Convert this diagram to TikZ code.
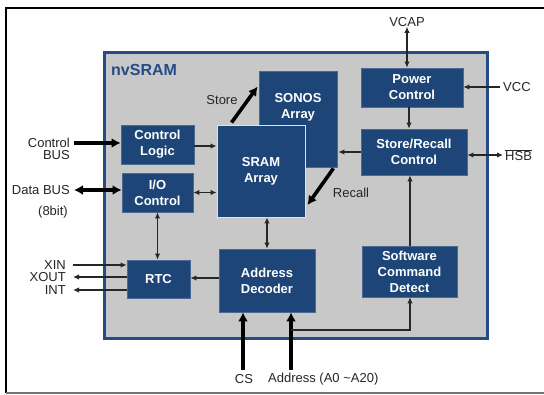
\documentclass[tikz,border=0pt]{standalone}
\usepackage{fontspec}
\setmainfont{Liberation Sans}
\usetikzlibrary{arrows.meta,positioning,calc}
\definecolor{blockblue}{RGB}{29,69,120}
\definecolor{panelgray}{RGB}{200,200,200}
\definecolor{panelblue}{RGB}{36,76,134}
\definecolor{labelgray}{RGB}{38,38,38}
\tikzset{
  panel/.style={draw=panelblue,fill=panelgray,line width=3pt,inner sep=0pt},
  blk/.style={fill=blockblue,draw=blockblue!80!white,line width=0.8pt,inner sep=0pt,
    align=center,text=white,font=\fontsize{13}{16}\selectfont\bfseries},
  blktext/.style={align=center,text=white,inner sep=0pt,font=\fontsize{13}{16}\selectfont\bfseries},
  sig/.style={font=\fontsize{13}{12.5}\selectfont,text=labelgray,inner sep=0pt},
  wire/.style={-{Latex[length=6pt,width=5.5pt]},line width=1.2pt,draw=black!85},
  wire2/.style={{Latex[length=6pt,width=5.5pt]}-{Latex[length=6pt,width=5.5pt]},line width=1.2pt,draw=black!85},
  bus/.style={-{Latex[length=9pt,width=10pt]},line width=3.6pt,draw=black},
  bus2/.style={{Latex[length=9pt,width=10pt]}-{Latex[length=9pt,width=10pt]},line width=3.6pt,draw=black}
}
\begin{document}
\begin{tikzpicture}[x=1pt,y=-1pt]
  \useasboundingbox (0,0) rectangle (544,395);
  \fill[white] (0,0) rectangle (544,395);
  % frame
  \draw[line width=2pt,black] (6,393) -- (6,8) -- (544,8);
  \draw[line width=2pt,black!55] (6,393) -- (544,393);
  % chip
  \node[panel,minimum width=383,minimum height=286] (chip) at (295.5,196) {};
  \node[font=\fontsize{16}{16}\selectfont\bfseries,text=panelblue,anchor=west,inner sep=0pt] (chipname) at (111,70) {nvSRAM};
  % blocks
  \node[blk,minimum width=102,minimum height=39] (power) at (412,87.5) {Power\\Control};
  \node[blk,minimum width=106,minimum height=46] (srctl) at (414,152) {Store/Recall\\Control};
  \node[blk,minimum width=78,minimum height=96] (sonos) at (298,119) {};
  \node[blktext] (sonostxt) at (298,107) {SONOS\\Array};
  \node[blk,draw=white!85!blockblue,line width=0.9pt,minimum width=88,minimum height=92] (sram) at (261,171) {SRAM\\Array};
  \node[blk,minimum width=73,minimum height=39] (ctrl) at (157.5,144.5) {Control\\Logic};
  \node[blk,minimum width=71,minimum height=39] (io) at (157.5,192.5) {I/O\\Control};
  \node[blk,minimum width=63,minimum height=38] (rtc) at (158.5,279) {RTC};
  \node[blk,minimum width=96,minimum height=63] (addr) at (267,280.5) {Address\\Decoder};
  \node[blk,minimum width=95,minimum height=51] (swcmd) at (409.5,271.5) {Software\\Command\\Detect};
  % signal names
  \node[sig] (vcap) at (407,22) {VCAP};
  \node[sig,anchor=west] (vcc) at (503,87) {VCC};
  \node[sig,anchor=west] (hsb) at (505,155) {$\overline{\mbox{HSB}}$};
  \node[sig,align=right,anchor=east] (cbus) at (70,149) {Control\\BUS};
  \node[sig,anchor=east] (dbus) at (70,190) {Data BUS};
  \node[sig] (dwidth) at (53,212) {(8bit)};
  \node[sig,anchor=east] (xin) at (66,265) {XIN};
  \node[sig,anchor=east] (xout) at (66,277) {XOUT};
  \node[sig,anchor=east] (int) at (66,290) {INT};
  \node[sig] (cs) at (244,379) {CS};
  \node[sig,anchor=west] (adrs) at (268,379) {Address (A0 \textasciitilde A20)};
  \node[sig] (store) at (222,100) {Store};
  \node[sig] (recall) at (351,193) {Recall};
  % power path
  \draw[wire2] (vcap.south) -- (vcap.south |- power.north);
  \draw[wire] ([xshift=-3pt]vcc.west) -- (power.east |- vcc.west);
  \draw[wire] ([xshift=-3pt]power.south) -- ([xshift=-5pt]srctl.north);
  \draw[wire2] (srctl.east |- hsb.west) -- ([xshift=-2pt]hsb.west);
  \draw[wire] (srctl.west) -- ([xshift=1pt]sonos.east |- srctl.west);
  % store / recall
  \draw[bus] ([xshift=15pt,yshift=2pt]sram.north west) -- ([xshift=-1pt,yshift=-16pt]sonos.north west);
  \draw[bus] ([xshift=-4pt,yshift=-1pt]sonos.south east) -- ([xshift=2pt,yshift=-34pt]sram.east);
  % interface side
  \draw[bus] (74,143) coordinate (cbusin) -- (ctrl.west |- cbusin);
  \draw[bus2] (74,190) coordinate (dbusin) -- (io.west |- dbusin);
  \draw[wire] ([yshift=-1.5pt]ctrl.east) -- ([yshift=-1.5pt]sram.west |- ctrl.east);
  \draw[wire2] (io.east) -- (sram.west |- io.east);
  \draw[wire2] (io.south) -- (io.south |- rtc.north);
  \draw[wire] (73,265) coordinate (xinin) -- (rtc.west |- xinin);
  \draw[wire] (rtc.west |- xout) -- (73,277);
  \draw[wire] (rtc.west |- int) -- (73,290);
  \draw[wire] (addr.west |- 0,278) -- (rtc.east |- 0,278);
  \draw[wire2] (addr.north |- sram.south) -- (addr.north);
  % address inputs
  \draw[bus] (243,370) coordinate (csin) -- (csin |- addr.south);
  \draw[bus] (291,370) coordinate (adin) -- (adin |- addr.south);
  \draw[wire] (291,330) coordinate (tap) -- (410,330) -- (410,0 |- swcmd.south);
  \draw[wire] (410,0 |- swcmd.north) -- (410,0 |- srctl.south);
\end{tikzpicture}
\end{document}
